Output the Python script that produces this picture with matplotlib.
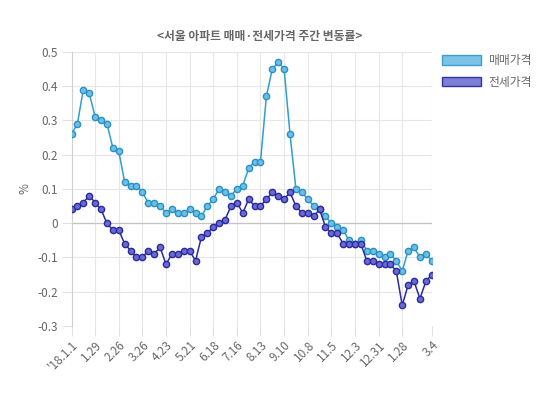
import matplotlib
matplotlib.use('Agg')
import matplotlib.pyplot as plt
from matplotlib.patches import Patch

plt.rcParams['font.family'] = ['Noto Sans CJK KR', 'DejaVu Sans']

# weekly change rate (%), '18.1.1 ~ '19.3.4
sale = [0.26, 0.29, 0.39, 0.38, 0.31, 0.30, 0.29, 0.22, 0.21, 0.12,
        0.11, 0.11, 0.09, 0.06, 0.06, 0.05, 0.03, 0.04, 0.03, 0.03,
        0.04, 0.03, 0.02, 0.05, 0.07, 0.10, 0.09, 0.08, 0.10, 0.11,
        0.16, 0.18, 0.18, 0.37, 0.45, 0.47, 0.45, 0.26, 0.10, 0.09,
        0.07, 0.05, 0.04, 0.02, 0.00, -0.01, -0.02, -0.05, -0.06, -0.05,
        -0.08, -0.08, -0.09, -0.10, -0.09, -0.11, -0.14, -0.08, -0.07, -0.10,
        -0.09, -0.11]
jeonse = [0.04, 0.05, 0.06, 0.08, 0.06, 0.04, 0.00, -0.02, -0.02, -0.06,
          -0.08, -0.10, -0.10, -0.08, -0.09, -0.07, -0.12, -0.09, -0.09, -0.08,
          -0.08, -0.11, -0.04, -0.03, -0.01, 0.00, 0.01, 0.05, 0.06, 0.03,
          0.07, 0.05, 0.05, 0.07, 0.09, 0.08, 0.07, 0.09, 0.05, 0.03,
          0.03, 0.02, 0.04, -0.01, -0.03, -0.03, -0.06, -0.06, -0.06, -0.06,
          -0.11, -0.11, -0.12, -0.12, -0.12, -0.14, -0.24, -0.18, -0.17, -0.22,
          -0.17, -0.15]

tick_pos = [0, 4, 8, 12, 16, 20, 24, 28, 32, 36, 40, 44, 48, 52, 56, 61]
tick_labels = ["'18.1.1", '1.29', '2.26', '3.26', '4.23', '5.21', '6.18', '7.16',
               '8.13', '9.10', '10.8', '11.5', '12.3', '12.31', '1.28', '3.4']
y_ticks = [-0.3, -0.2, -0.1, 0, 0.1, 0.2, 0.3, 0.4, 0.5]

x = list(range(len(sale)))

fig = plt.figure(figsize=(5.5, 3.95), dpi=100)
ax = fig.add_axes([0.130, 0.1747, 0.655, 0.694])

ax.plot(x, sale, color='#2e9fd0', lw=1.1, marker='o', ms=4.5,
        mfc='#6cc0e5', mec='#2b8fc4', mew=1, zorder=3)
ax.plot(x, jeonse, color='#2a2aa0', lw=1.1, marker='o', ms=4.5,
        mfc='#6a6ad0', mec='#2a2aa0', mew=1, zorder=3)

ax.set_xlim(0, len(sale) - 1)
ax.set_ylim(-0.3, 0.5)
ax.set_yticks(y_ticks)
ax.set_yticklabels(['-0.3', '-0.2', '-0.1', '0', '0.1', '0.2', '0.3', '0.4', '0.5'])
ax.set_xticks(tick_pos)
ax.set_xticklabels(tick_labels, rotation=45, ha='right', rotation_mode='anchor')

ax.grid(True, color='#e6e6e6', lw=0.8)
ax.axhline(0, color='#c4c4c4', lw=0.9, zorder=1)
ax.set_axisbelow(True)
for s in ['top', 'right', 'bottom']:
    ax.spines[s].set_visible(False)
ax.spines['left'].set_color('#d0d0d0')
ax.tick_params(axis='both', colors='#e0e0e0', length=7, labelcolor='#666666', labelsize=8.5)
ax.tick_params(axis='y', pad=3)
ax.tick_params(axis='x', pad=2)

ax.set_ylabel('%', color='#666666', fontsize=8.5, labelpad=4)

fig.text(0.473, 0.908, '<서울 아파트 매매·전세가격 주간 변동률>', ha='center', va='center',
         fontsize=8.5, fontweight='bold', color='#666666')

handles = [Patch(facecolor='#7ec3e6', edgecolor='#3a9fd0', lw=1),
           Patch(facecolor='#7b7fd6', edgecolor='#3333a8', lw=1)]
fig.legend(handles, ['매매가격', '전세가격'], loc='upper left',
           bbox_to_anchor=(0.795, 0.875), frameon=False, handlelength=3.3,
           handleheight=0.8, handletextpad=0.6, labelspacing=0.75,
           fontsize=8.5, labelcolor='#666666', borderaxespad=0)

fig.savefig('out.png', dpi=100, facecolor='white')
